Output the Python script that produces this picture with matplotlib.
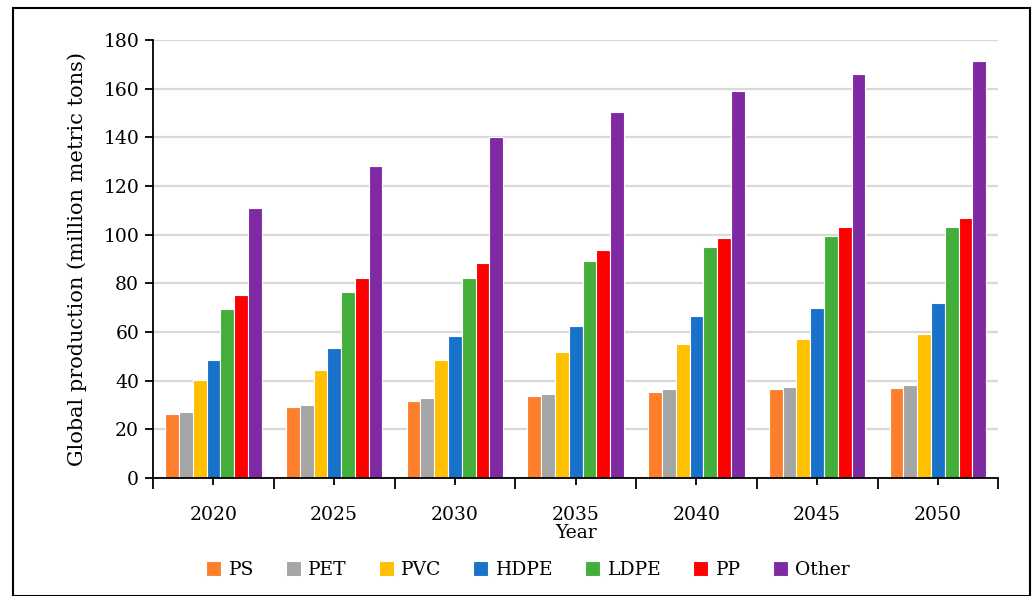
import numpy as np
import matplotlib.pyplot as plt
from matplotlib.patches import Rectangle
from matplotlib.ticker import FixedLocator, NullFormatter

# values
years = ['2020', '2025', '2030', '2035', '2040', '2045', '2050']
ps = [26.3, 29.3, 31.8, 33.7, 35.3, 36.4, 37.0]
pet = [27.1, 30.1, 32.8, 34.6, 36.4, 37.4, 38.1]
pvc = [40.3, 44.5, 48.4, 51.7, 54.9, 57.3, 59.2]
hdpe = [48.4, 53.4, 58.2, 62.3, 66.4, 69.7, 72.1]
ldpe = [69.3, 76.6, 82.1, 89.2, 94.9, 99.6, 103.0]
pp = [75.2, 82.3, 88.2, 93.8, 98.8, 103.2, 107.0]
other = [110.8, 128.1, 140.2, 150.3, 158.9, 165.9, 171.5]

names = ['PS', 'PET', 'PVC', 'HDPE', 'LDPE', 'PP', 'Other']
colors = ['#FD7F2C', '#A5A5A5', '#FFC000', '#1872C9', '#43AE3A', '#FF0000', '#7F2AA3']
series = [ps, pet, pvc, hdpe, ldpe, pp, other]

plt.rcParams['font.family'] = ['DejaVu Serif']

fig = plt.figure(figsize=(10.32, 5.96), dpi=100)
ax = fig.add_axes([0.1483, 0.198, 0.819, 0.735])

x = np.arange(len(years))
slot = 0.114
for i, (vals, c, nm) in enumerate(zip(series, colors, names)):
    ax.bar(x + (i - 3) * slot, vals, width=slot, color=c, edgecolor='white',
           linewidth=0.8, label=nm, zorder=3)

ax.set_xlim(-0.5, len(years) - 0.5)
ax.set_ylim(0, 180)
ax.set_yticks(np.arange(0, 181, 20))
ax.yaxis.grid(True, color='#D9D9D9', linewidth=1.6, zorder=0)
ax.set_axisbelow(True)

# long ticks at category boundaries, short ticks under labels
ax.xaxis.set_major_locator(FixedLocator(np.arange(-0.5, len(years), 1.0)))
ax.xaxis.set_major_formatter(NullFormatter())
ax.xaxis.set_minor_locator(FixedLocator(x))
ax.set_xticklabels(years, minor=True)
ax.tick_params(axis='x', which='major', length=8, width=1.3, direction='out')
ax.tick_params(axis='x', which='minor', length=5, width=1.3, direction='out',
               pad=15, labelsize=13.5)
ax.tick_params(axis='y', length=6, width=1.3, labelsize=13.5, pad=4)

for s in ['top', 'right']:
    ax.spines[s].set_visible(False)
for s in ['left', 'bottom']:
    ax.spines[s].set_linewidth(1.3)
    ax.spines[s].set_zorder(5)

ax.set_ylabel('Global production (million metric tons)', fontsize=15, labelpad=12)
ax.set_xlabel('Year', fontsize=13.5, labelpad=0)

fig.legend(*ax.get_legend_handles_labels(), loc='center', bbox_to_anchor=(528 / 1032, 26 / 596),
           ncol=7, frameon=False, fontsize=13.5, handlelength=0.8, handleheight=0.8,
           handletextpad=0.4, columnspacing=1.7)

fig.patches.append(Rectangle((13 / 1032, 0), 1017 / 1032, 588 / 596,
                             transform=fig.transFigure, fill=False,
                             edgecolor='black', linewidth=1.5))

fig.savefig('out.png', dpi=100)
